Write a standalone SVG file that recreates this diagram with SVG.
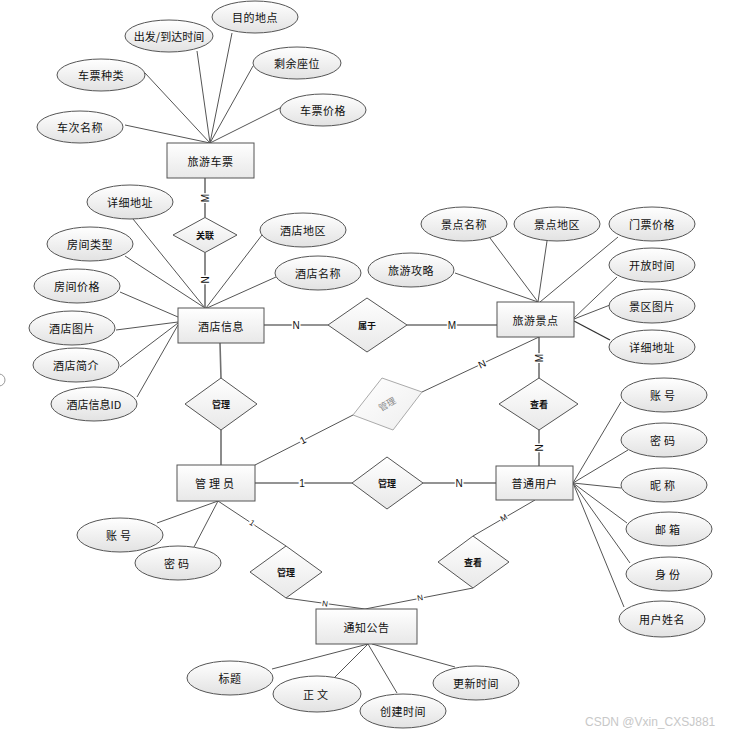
<svg xmlns="http://www.w3.org/2000/svg" width="729" height="734" viewBox="0 0 729 734">
<defs>
<linearGradient id="g" x1="0" y1="0" x2="0" y2="1"><stop offset="0" stop-color="#ffffff"/><stop offset="1" stop-color="#e2e2e2"/></linearGradient>
<linearGradient id="gr" x1="0" y1="0" x2="0" y2="1"><stop offset="0" stop-color="#ffffff"/><stop offset="1" stop-color="#e8e8e8"/></linearGradient>
<linearGradient id="gg" x1="0" y1="0" x2="1" y2="1"><stop offset="0" stop-color="#ffffff"/><stop offset="1" stop-color="#eeeeee"/></linearGradient>
<style>
.e{fill:url(#g);stroke:#555;stroke-width:1}
.r{fill:url(#gr);stroke:#555;stroke-width:1}
.d{fill:url(#gr);stroke:#555;stroke-width:1}
.dg{fill:url(#gg);stroke:#aaa;stroke-width:1}
.a{stroke:#555;stroke-width:1;fill:none}
.k{stroke:#707070;stroke-width:1.6;fill:none}
text{font-family:"Noto Sans CJK SC","Noto Sans",sans-serif;text-anchor:middle;dominant-baseline:central;fill:#111}
.t{font-size:11px;letter-spacing:0.5px}
.dt{font-size:9px;font-weight:bold}
.lb{font-family:"Liberation Sans",Arial,sans-serif;font-size:10px;stroke:#fff;stroke-width:3px;paint-order:stroke;fill:#111}
.wm{font-family:"Liberation Sans",Arial,sans-serif;font-size:12px;fill:#c8c8c8;text-anchor:start}
</style>
</defs>
<circle cx="-1" cy="380" r="6" fill="none" stroke="#999"/>
<g id="connectors">
<path class="a" d="M125,125L210,143M145,73L210,143M197,51L210,143M232,33L210,143M253,66L210,143M282,107L210,143"/>
<path class="a" d="M133,219L205,308M125,256L205,308M120,292L178,317M116,330L178,322M120,367L178,323M137,397L178,325M262,235L206,308M276,277L207,308"/>
<path class="a" d="M490,238L538,302M547,241L538,302M618,237L540,302M455,273L538,302M617,277L574,318M610,305L574,319"/>
<path d="M610,340L574,321" stroke="#333" stroke-width="1.4" fill="none"/>
<path class="a" d="M573,483L621,402M573,483L628,450M573,483L621,488M573,483L627,523M573,483L630,563M573,483L624,607"/>
<path class="a" d="M157,523L218,501M194,547L218,501"/>
<path class="a" d="M368,644L272,669M368,644L335,677M368,644L397,693M372,644L455,667"/>
<path class="k" d="M205,178L205,217.5M205,252.5L205,308M264,325L328,325M407,325L497,325M220,343L221,378M221,430L221,465M255,483L352,483M423,483L496,483M539,337L539,378M539,430L539,466"/>
<path class="a" d="M255,465L353,415M422,392L539,337M535,500L473,536M473,588L365,609M218,501L286,546M286,598L365,609"/>
<text class="lb" transform="translate(205,198) rotate(-90)">M</text>
<text class="lb" transform="translate(205,280) rotate(-90)">N</text>
<text class="lb" x="296" y="325">N</text>
<text class="lb" x="452" y="325">M</text>
<text class="lb" transform="translate(303,440) rotate(-27)">1</text>
<text class="lb" transform="translate(482,364) rotate(-25)">N</text>
<text class="lb" transform="translate(539,358) rotate(-90)">M</text>
<text class="lb" transform="translate(539,448) rotate(-90)">N</text>
<text class="lb" x="302" y="483">1</text>
<text class="lb" x="459" y="483">N</text>
<text class="lb" transform="translate(504,518) rotate(-30)" style="font-size:8px">M</text>
<text class="lb" transform="translate(420,598) rotate(-11)" style="font-size:8px">N</text>
<text class="lb" transform="translate(252,523) rotate(33)" style="font-size:8px">1</text>
<text class="lb" transform="translate(325,604) rotate(8)" style="font-size:8px">N</text>
</g>
<g id="e-lvcp"><rect class="r" x="167" y="143" width="87" height="35"/><text class="t" x="210.5" y="160.5">旅游车票</text></g>
<g id="e-jdxx"><rect class="r" x="178" y="308" width="86" height="35"/><text class="t" x="221" y="325.5">酒店信息</text></g>
<g id="e-lyjd"><rect class="r" x="497" y="302" width="77" height="35"/><text class="t" x="535.5" y="319.5">旅游景点</text></g>
<g id="e-gly"><rect class="r" x="177" y="465" width="78" height="36"/><text class="t" x="216" y="483" style="letter-spacing:3px">管理员</text></g>
<g id="e-ptyh"><rect class="r" x="496" y="466" width="77" height="34"/><text class="t" x="534.5" y="483">普通用户</text></g>
<g id="e-tzgg"><rect class="r" x="316" y="609" width="101" height="35"/><text class="t" x="366.5" y="626.5">通知公告</text></g>
<g id="r-gl"><polygon class="d" points="205,217.5 237,235 205,252.5 173,235"/><text class="dt" x="205" y="235">关联</text></g>
<g id="r-sy"><polygon class="d" points="367,298 407,325 367,352 328,325"/><text class="dt" x="367" y="325">属于</text></g>
<g id="r-gl1"><polygon class="d" points="221,378 257,404 221,430 185,404"/><text class="dt" x="221" y="404">管理</text></g>
<g id="r-gl2"><polygon class="dg" points="382,378 422,392 393,430 353,415"/><text class="dt" transform="translate(387,404) rotate(-30)" style="fill:#888;font-weight:normal">管理</text></g>
<g id="r-ck1"><polygon class="d" points="539,378 578,404 539,430 499,404"/><text class="dt" x="539" y="404">查看</text></g>
<g id="r-gl3"><polygon class="d" points="387,457 423,483 387,509 352,483"/><text class="dt" x="387" y="483">管理</text></g>
<g id="r-ck2"><polygon class="d" points="473,536 509,562 473,588 438,562"/><text class="dt" x="473" y="562">查看</text></g>
<g id="r-gl4"><polygon class="d" points="286,546 322,572 286,598 250,572"/><text class="dt" x="286" y="572">管理</text></g>
<g id="a-cp1"><ellipse class="e" cx="80" cy="127" rx="43" ry="16"/><text class="t" x="80" y="127">车次名称</text></g>
<g id="a-cp2"><ellipse class="e" cx="101" cy="75" rx="44" ry="16"/><text class="t" x="101" y="75">车票种类</text></g>
<g id="a-cp3"><ellipse class="e" cx="169" cy="36" rx="44" ry="16"/><text class="t" x="169" y="36" style="letter-spacing:0">出发/到达时间</text></g>
<g id="a-cp4"><ellipse class="e" cx="255" cy="17" rx="43" ry="16"/><text class="t" x="255" y="17">目的地点</text></g>
<g id="a-cp5"><ellipse class="e" cx="297" cy="63" rx="44" ry="16"/><text class="t" x="297" y="63">剩余座位</text></g>
<g id="a-cp6"><ellipse class="e" cx="323" cy="110" rx="43" ry="16"/><text class="t" x="323" y="110">车票价格</text></g>
<g id="a-jd1"><ellipse class="e" cx="130" cy="202" rx="43" ry="17"/><text class="t" x="130" y="202">详细地址</text></g>
<g id="a-jd2"><ellipse class="e" cx="90" cy="244" rx="43" ry="17"/><text class="t" x="90" y="244">房间类型</text></g>
<g id="a-jd3"><ellipse class="e" cx="77" cy="286" rx="43" ry="17"/><text class="t" x="77" y="286">房间价格</text></g>
<g id="a-jd4"><ellipse class="e" cx="72" cy="328" rx="43" ry="17"/><text class="t" x="72" y="328">酒店图片</text></g>
<g id="a-jd5"><ellipse class="e" cx="76" cy="365" rx="43" ry="17"/><text class="t" x="76" y="365">酒店简介</text></g>
<g id="a-jd6"><ellipse class="e" cx="94" cy="404" rx="43" ry="17"/><text class="t" x="94" y="404" style="letter-spacing:0">酒店信息ID</text></g>
<g id="a-jd7"><ellipse class="e" cx="303" cy="230" rx="43" ry="17"/><text class="t" x="303" y="230">酒店地区</text></g>
<g id="a-jd8"><ellipse class="e" cx="318" cy="273" rx="43" ry="17"/><text class="t" x="318" y="273">酒店名称</text></g>
<g id="a-sp1"><ellipse class="e" cx="464" cy="224" rx="43" ry="17"/><text class="t" x="464" y="224">景点名称</text></g>
<g id="a-sp2"><ellipse class="e" cx="557" cy="224" rx="43" ry="17"/><text class="t" x="557" y="224">景点地区</text></g>
<g id="a-sp3"><ellipse class="e" cx="652" cy="224" rx="43" ry="17"/><text class="t" x="652" y="224">门票价格</text></g>
<g id="a-sp4"><ellipse class="e" cx="411" cy="270" rx="43" ry="17"/><text class="t" x="411" y="270">旅游攻略</text></g>
<g id="a-sp5"><ellipse class="e" cx="652" cy="265" rx="43" ry="17"/><text class="t" x="652" y="265">开放时间</text></g>
<g id="a-sp6"><ellipse class="e" cx="652" cy="306" rx="43" ry="17"/><text class="t" x="652" y="306">景区图片</text></g>
<g id="a-sp7"><ellipse class="e" cx="652" cy="347" rx="43" ry="17"/><text class="t" x="652" y="347">详细地址</text></g>
<g id="a-u1"><ellipse class="e" cx="664" cy="395" rx="43" ry="17"/><text class="t" x="664" y="395" style="letter-spacing:3px">账号</text></g>
<g id="a-u2"><ellipse class="e" cx="664" cy="440" rx="43" ry="17"/><text class="t" x="664" y="440" style="letter-spacing:3px">密码</text></g>
<g id="a-u3"><ellipse class="e" cx="664" cy="485" rx="43" ry="17"/><text class="t" x="664" y="485" style="letter-spacing:3px">昵称</text></g>
<g id="a-u4"><ellipse class="e" cx="669" cy="529" rx="43" ry="17"/><text class="t" x="669" y="529" style="letter-spacing:3px">邮箱</text></g>
<g id="a-u5"><ellipse class="e" cx="669" cy="574" rx="43" ry="17"/><text class="t" x="669" y="574" style="letter-spacing:3px">身份</text></g>
<g id="a-u6"><ellipse class="e" cx="662" cy="619" rx="43" ry="18"/><text class="t" x="662" y="619">用户姓名</text></g>
<g id="a-g1"><ellipse class="e" cx="120" cy="535" rx="43" ry="17"/><text class="t" x="120" y="535" style="letter-spacing:3px">账号</text></g>
<g id="a-g2"><ellipse class="e" cx="178" cy="563" rx="43" ry="17"/><text class="t" x="178" y="563" style="letter-spacing:3px">密码</text></g>
<g id="a-n1"><ellipse class="e" cx="230" cy="678" rx="43" ry="17"/><text class="t" x="230" y="678">标题</text></g>
<g id="a-n2"><ellipse class="e" cx="317" cy="694" rx="44" ry="18"/><text class="t" x="317" y="694" style="letter-spacing:3px">正文</text></g>
<g id="a-n3"><ellipse class="e" cx="403" cy="711" rx="43" ry="17"/><text class="t" x="403" y="711">创建时间</text></g>
<g id="a-n4"><ellipse class="e" cx="476" cy="683" rx="43" ry="17"/><text class="t" x="476" y="683">更新时间</text></g>
<text class="wm" x="585" y="722">CSDN @Vxin_CXSJ881</text>
</svg>
